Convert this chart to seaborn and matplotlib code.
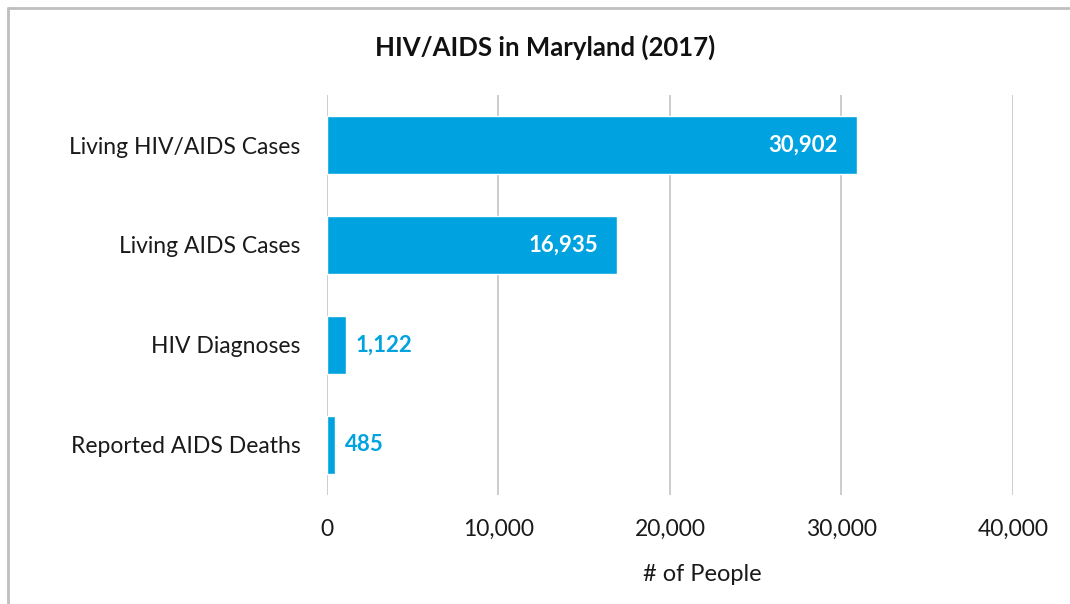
import matplotlib
matplotlib.use('Agg')
import matplotlib.pyplot as plt
import seaborn as sns
import pandas as pd
from matplotlib.ticker import FuncFormatter, MultipleLocator

# ── Data ────────────────────────────────────────────────
categories = ['Living HIV/AIDS Cases', 'Living AIDS Cases', 'HIV Diagnoses', 'Reported AIDS Deaths']
counts = [30902, 16935, 1122, 485]
df = pd.DataFrame({'category': categories, 'people': counts})

bar_color = '#00A3E0'
text_color = '#1a1a1a'

sns.set_style('white')
plt.rcParams['font.family'] = ['Lato', 'DejaVu Sans']

fig = plt.figure(figsize=(10.7, 6.04), dpi=100)
ax = fig.add_axes([0.3056, 0.1805, 0.6411, 0.6622])

sns.barplot(data=df, y='category', x='people', color=bar_color, width=0.58,
            saturation=1, ax=ax, zorder=3)

ax.set_xlim(0, 40000)
ax.xaxis.set_major_locator(MultipleLocator(10000))
ax.xaxis.set_major_formatter(FuncFormatter(lambda v, p: f'{int(v):,}'))
ax.grid(axis='x', color='#c8c8c8', linewidth=1.3, zorder=0)
for s in ax.spines.values():
    s.set_visible(False)
ax.tick_params(axis='both', length=0, labelsize=16.5, colors=text_color)
ax.tick_params(axis='x', pad=17)
ax.tick_params(axis='y', pad=19)
ax.set_ylabel('')
ax.set_xlabel('# of People', fontsize=17, color=text_color)
ax.xaxis.label.set_va('center')
ax.xaxis.set_label_coords(0.547, -0.2)

# value labels: inside for long bars, outside for short
for i, v in enumerate(counts):
    if v > 10000:
        ax.text(v - 1100, i, f'{v:,}', ha='right', va='center', color='white',
                fontsize=16, fontweight='bold', zorder=4)
    else:
        ax.text(v + 550, i, f'{v:,}', ha='left', va='center', color=bar_color,
                fontsize=16, fontweight='bold', zorder=4)

fig.text(0.509, 0.922, 'HIV/AIDS in Maryland (2017)', ha='center', va='center',
         fontsize=18.5, fontweight='bold', color='#111111')

# outer chart frame (left and top edges visible)
fig.add_artist(plt.Line2D([8/1070, 8/1070], [0, 1 - 8/604], color='#bfbfbf', lw=2,
                          transform=fig.transFigure))
fig.add_artist(plt.Line2D([8/1070, 1], [1 - 8/604, 1 - 8/604], color='#bfbfbf', lw=2,
                          transform=fig.transFigure))

fig.savefig('out.png', dpi=100)
